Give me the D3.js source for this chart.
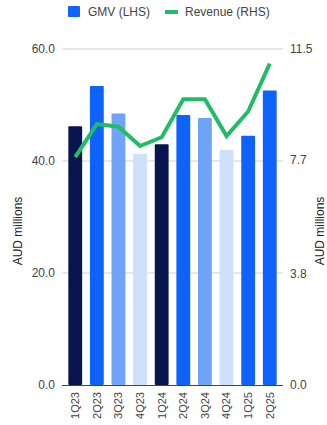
<!DOCTYPE html>
<html><head><meta charset="utf-8">
<script src="https://cdn.jsdelivr.net/npm/d3@7"></script>
<style>body{margin:0;background:#fff}svg{display:block;font-family:"Liberation Sans",Arial,sans-serif}</style>
</head><body><svg id="c" width="327" height="425"></svg>
<script>
const categories = ["1Q23","2Q23","3Q23","4Q23","1Q24","2Q24","3Q24","4Q24","1Q25","2Q25"];
const gmv = [46.2, 53.4, 48.5, 41.3, 43.0, 48.2, 47.7, 42.0, 44.5, 52.6];
const revenue = [7.8, 8.93, 8.84, 8.18, 8.48, 9.78, 9.78, 8.52, 9.36, 11.0];
const barColors = ["#08154f","#0d63fb","#6ea3f8","#cfe0fb","#08154f","#0d63fb","#6ea3f8","#cfe0fb","#0d63fb","#0d63fb"];
const leftTicks = [0, 20, 40, 60];
const rightTicks = [0, 3.8, 7.7, 11.5];
const legendLabels = ["GMV (LHS)", "Revenue (RHS)"];

const svg = d3.select("#c");
const L = 62, R = 283, T = 49, B = 385;
const x = d3.scaleBand().domain(categories).range([L + 2, R - 2]).paddingInner(0.36).paddingOuter(0.2);
const yL = d3.scaleLinear().domain([0, 60]).range([B, T]);
const yR = d3.scaleLinear().domain([0, 11.5]).range([B, T]);

// gridlines
svg.append("g").selectAll("line").data(leftTicks.filter(d => d > 0)).join("line")
  .attr("x1", L).attr("x2", R).attr("y1", d => yL(d)).attr("y2", d => yL(d))
  .attr("stroke", "#d0d0d0").attr("stroke-width", 1);

// left axis labels
const leftAxis = d3.axisLeft(yL).tickValues(leftTicks).tickFormat(d3.format(".1f")).tickSize(0).tickPadding(7);
const gl = svg.append("g").attr("transform", `translate(${L},0)`).call(leftAxis);
gl.select(".domain").remove();
gl.selectAll("text").attr("font-size", 12).attr("fill", "#444").style("font-family", "Liberation Sans, Arial, sans-serif");

const rightAxis = d3.axisRight(yR).tickValues(rightTicks).tickFormat(d3.format(".1f")).tickSize(0).tickPadding(7);
const gr = svg.append("g").attr("transform", `translate(${R},0)`).call(rightAxis);
gr.select(".domain").remove();
gr.selectAll("text").attr("font-size", 12).attr("fill", "#444").style("font-family", "Liberation Sans, Arial, sans-serif");

// bars
svg.append("g").selectAll("rect").data(categories).join("rect")
  .attr("x", d => x(d)).attr("width", x.bandwidth())
  .attr("y", (d, i) => yL(gmv[i])).attr("height", (d, i) => B - yL(gmv[i]))
  .attr("fill", (d, i) => barColors[i]).attr("rx", 1);

// baseline
svg.append("line").attr("x1", L).attr("x2", R).attr("y1", B + 0.5).attr("y2", B + 0.5)
  .attr("stroke", "#444").attr("stroke-width", 1);

// revenue line
const line = d3.line().x((d, i) => x(categories[i]) + x.bandwidth() / 2).y(d => yR(d));
svg.append("path").datum(revenue).attr("d", line).attr("fill", "none")
  .attr("stroke", "#22bb66").attr("stroke-width", 4).attr("stroke-linejoin", "miter");

// x labels
const bx = d3.axisBottom(x).tickSize(0).tickPadding(0);
const gx = svg.append("g").attr("transform", `translate(0,${B})`).call(bx);
gx.select(".domain").remove();
gx.selectAll("text").attr("font-size", 11).attr("fill", "#444")
  .style("font-family", "Liberation Sans, Arial, sans-serif")
  .attr("transform", "rotate(-90)").attr("text-anchor", "end")
  .attr("x", -7).attr("y", 0).attr("dy", "0.35em");

// axis titles
svg.append("text").attr("transform", "translate(18,231) rotate(-90)")
  .attr("text-anchor", "middle").attr("dy", "0.35em").attr("font-size", 12).attr("fill", "#222").text("AUD millions");
svg.append("text").attr("transform", "translate(320,231) rotate(-90)")
  .attr("text-anchor", "middle").attr("dy", "0.35em").attr("font-size", 12).attr("fill", "#222").text("AUD millions");

// legend
const lg = svg.append("g");
lg.append("rect").attr("x", 68).attr("y", 6).attr("width", 12).attr("height", 11).attr("rx", 1).attr("fill", "#0d63fb");
lg.append("text").attr("x", 88).attr("y", 16).attr("font-size", 12).attr("fill", "#444").text(legendLabels[0]);
lg.append("line").attr("x1", 165).attr("x2", 178).attr("y1", 12).attr("y2", 12).attr("stroke", "#22bb66").attr("stroke-width", 4);
lg.append("text").attr("x", 185).attr("y", 16).attr("font-size", 12).attr("fill", "#444").text(legendLabels[1]);
</script></body></html>
